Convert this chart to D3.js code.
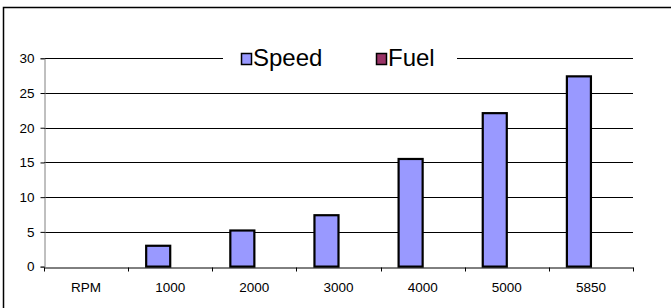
<!DOCTYPE html>
<html><head><meta charset="utf-8">
<script src="https://cdn.jsdelivr.net/npm/d3@7"></script>
<style>body{margin:0;background:#fff;} svg{display:block;font-family:"Liberation Sans",Arial,sans-serif;}</style>
</head><body>
<script>
const categories = ["RPM","1000","2000","3000","4000","5000","5850"];
const speedValues = [null, 3.0, 5.2, 7.4, 15.5, 22.1, 27.4];
const fuelValues = [null, null, null, null, null, null, null];
const yTicks = [0,5,10,15,20,25,30];
const seriesNames = ["Speed","Fuel"];
const seriesColors = ["#9999FF","#993366"];

const FONT = "'Liberation Sans', Arial, sans-serif";
const W = 671, H = 308;
const m = {left:44, right:38, top:58.3, bottom:41.4};
const svg = d3.select("body").append("svg").attr("width",W).attr("height",H);

// outer border
svg.append("rect").attr("x",3.5).attr("y",7.5).attr("width",W+10).attr("height",H+10)
  .attr("fill","none").attr("stroke","#000").attr("stroke-width",1.5);

const x = d3.scaleBand().domain(categories).range([m.left, W-m.right]).paddingInner(0).paddingOuter(0);
const y = d3.scaleLinear().domain([0,30]).range([H-m.bottom, m.top]);
const bw = x.bandwidth()/3.5;
const xs = d3.scaleBand().domain(seriesNames).range([0, bw*2]);

// gridlines
svg.append("g").selectAll("line").data(yTicks.filter(d=>d>0)).join("line")
  .attr("x1",m.left).attr("x2",W-m.right)
  .attr("y1",d=>Math.round(y(d))+0.5).attr("y2",d=>Math.round(y(d))+0.5)
  .attr("stroke","#000").attr("stroke-width",1);

// bars
const series = [speedValues, fuelValues];
series.forEach((vals, si) => {
  svg.append("g").selectAll("rect")
    .data(categories.map((c,i)=>({c, v:vals[i]})).filter(d=>d.v!=null))
    .join("rect")
    .attr("x", d => x(d.c) + x.bandwidth()/2 - bw + xs(seriesNames[si]))
    .attr("y", d => y(d.v))
    .attr("width", bw)
    .attr("height", d => y(0)-y(d.v))
    .attr("fill", seriesColors[si])
    .attr("stroke","#000").attr("stroke-width",2.2);
});

// y axis
const yAxis = d3.axisLeft(y).tickValues(yTicks).tickSize(4).tickPadding(6);
const gy = svg.append("g").attr("transform",`translate(${m.left+0.5},0)`).call(yAxis);
gy.attr("font-size",null).attr("font-family",null);
gy.select(".domain").attr("stroke","#808080").attr("stroke-width",1);
gy.selectAll(".tick line").attr("stroke","#000");
gy.selectAll(".tick text").style("font-size","13.5px").style("font-family",FONT).attr("fill","#000");

// x axis
const xAxis = d3.axisBottom(x).tickSize(0).tickPadding(15);
const gx = svg.append("g").attr("transform",`translate(0,${Math.round(y(0))+0.5})`).call(xAxis);
gx.attr("font-size",null).attr("font-family",null);
gx.select(".domain").attr("stroke","#000").attr("stroke-width",1);
gx.selectAll(".tick text").style("font-size","13.5px").style("font-family",FONT).attr("fill","#000");
// category boundary ticks
const bounds = categories.map(c=>x(c)).concat([x(categories[categories.length-1])+x.bandwidth()]);
gx.append("g").selectAll("line").data(bounds).join("line")
  .attr("x1",d=>Math.round(d)+0.5).attr("x2",d=>Math.round(d)+0.5)
  .attr("y1",0).attr("y2",4).attr("stroke","#000");

// legend
const lg = svg.append("g");
lg.append("rect").attr("x",223).attr("y",46).attr("width",234).attr("height",26).attr("fill","#fff");
const legendItems = [{name:seriesNames[0], color:seriesColors[0], sx:241, tx:253},
                     {name:seriesNames[1], color:seriesColors[1], sx:376, tx:388}];
legendItems.forEach(it=>{
  lg.append("rect").attr("x",it.sx+0.5).attr("y",53.5).attr("width",10).attr("height",11)
    .attr("fill",it.color).attr("stroke","#000").attr("stroke-width",1.5);
  lg.append("text").attr("x",it.tx).attr("y",66).style("font-size","24px").style("font-family",FONT)
    .attr("fill","#000").text(it.name);
});
</script>
</body></html>
